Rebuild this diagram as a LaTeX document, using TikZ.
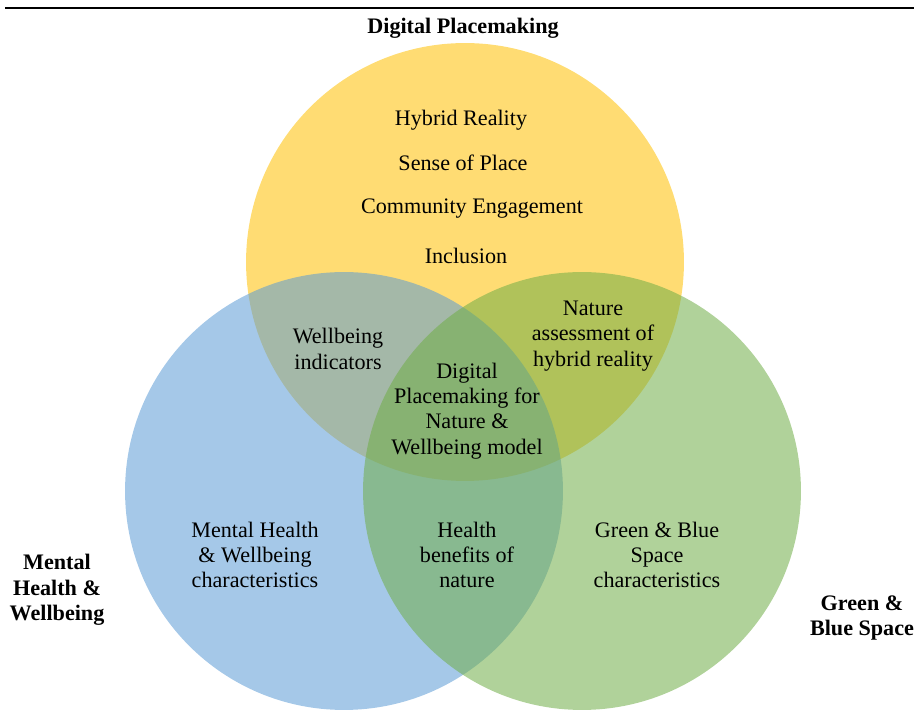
\documentclass[tikz,border=0pt]{standalone}
\usepackage{fontspec}
\setmainfont{Liberation Serif}
\usepackage{tikz}
\usetikzlibrary{positioning}

\definecolor{dpyellow}{HTML}{FFC000}
\definecolor{mhblue}{HTML}{5B9BD5}
\definecolor{gbgreen}{HTML}{70AD47}

\begin{document}
\begin{tikzpicture}[x=0.02cm, y=-0.02cm,
  set/.style={circle, minimum size=8.76cm, inner sep=0pt, fill opacity=0.55},
  item/.style={align=center, font=\fontsize{12.6}{14.4}\selectfont, inner sep=0pt},
  title/.style={align=center, font=\fontsize{12.6}{14.6}\selectfont\bfseries, inner sep=0pt}]

\useasboundingbox (0,0) rectangle (914,712);
\draw[line width=1.6pt] (5,8) -- (914,8);

% the three sets
\node[set, fill=dpyellow] (dp) at (465,262) {};
\node[set, fill=mhblue] (mh) at (344,491) {};
\node[set, fill=gbgreen] (gb) at (582,491) {};

% set titles
\node[title] (dptitle) at (463,28) {Digital Placemaking};
\node[title] (mhtitle) at (57,590) {Mental\\Health \&\\Wellbeing};
\node[title] (gbtitle) at (862,618) {Green \&\\Blue Space};

% digital placemaking only
\node[item] (hybrid) at (461,120) {Hybrid Reality};
\node[item] (sense) at (463,163) {Sense of Place};
\node[item] (community) at (472,209) {Community Engagement};
\node[item] (inclusion) at (466,256) {Inclusion};

% overlaps
\node[item] (indicators) at (338,349) {Wellbeing\\indicators};
\node[item] (assessment) at (593,336) {Nature\\assessment of\\hybrid reality};
\node[item] (model) at (467,411) {Digital\\Placemaking for\\Nature \&\\Wellbeing model};
\node[item] (benefits) at (467,555) {Health\\benefits of\\nature};

% single sets below
\node[item] (mhchar) at (255,555) {Mental Health\\\& Wellbeing\\characteristics};
\node[item] (gbchar) at (657,555) {Green \& Blue\\Space\\characteristics};

\end{tikzpicture}
\end{document}
